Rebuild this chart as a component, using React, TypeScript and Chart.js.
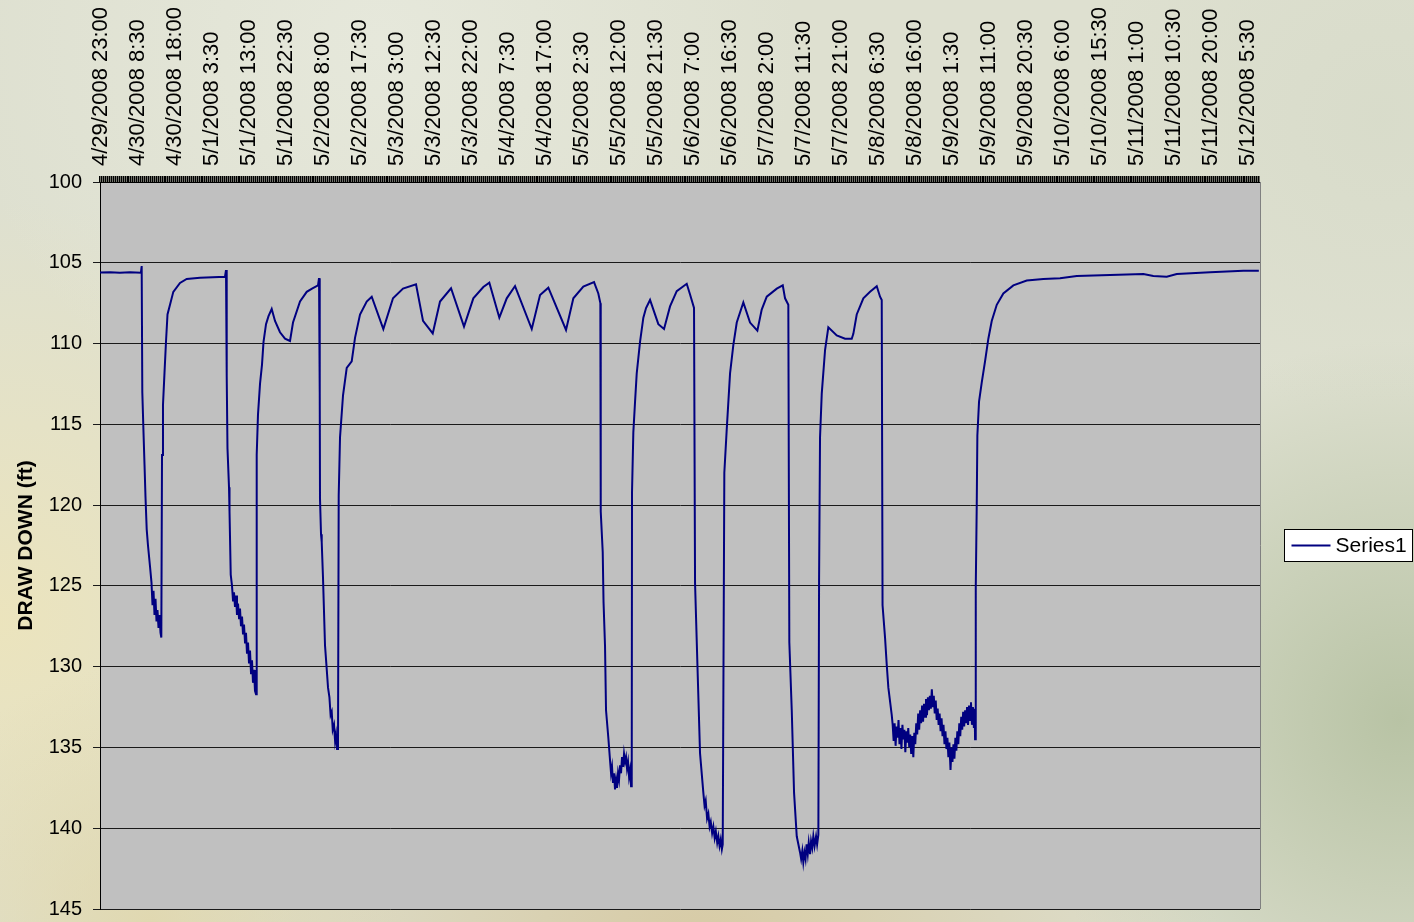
import React, { useEffect, useRef } from 'react';
import { Chart, registerables } from 'chart.js';

Chart.register(...registerables);

const FONT = '"Liberation Sans", Arial, Helvetica, sans-serif';

// Category tick labels shown on the top axis (one every 9.5 hours)
const tickLabels: string[] = [
  '4/29/2008 23:00', '4/30/2008 8:30', '4/30/2008 18:00', '5/1/2008 3:30',
  '5/1/2008 13:00', '5/1/2008 22:30', '5/2/2008 8:00', '5/2/2008 17:30',
  '5/3/2008 3:00', '5/3/2008 12:30', '5/3/2008 22:00', '5/4/2008 7:30',
  '5/4/2008 17:00', '5/5/2008 2:30', '5/5/2008 12:00', '5/5/2008 21:30',
  '5/6/2008 7:00', '5/6/2008 16:30', '5/7/2008 2:00', '5/7/2008 11:30',
  '5/7/2008 21:00', '5/8/2008 6:30', '5/8/2008 16:00', '5/9/2008 1:30',
  '5/9/2008 11:00', '5/9/2008 20:30', '5/10/2008 6:00', '5/10/2008 15:30',
  '5/11/2008 1:00', '5/11/2008 10:30', '5/11/2008 20:00', '5/12/2008 5:30',
];
const sampleStepHours = 0.5;
const labelIntervalHours = 9.5;
const axisEndHours = 297.8;

// [hours since 4/29/2008 23:00, draw down (ft)] — pumping test
const recoveryStart: [number, number][] = [
  [0, 105.6], [2.6, 105.58], [5.1, 105.62], [7.7, 105.58], [10.5, 105.62], [10.7, 105.2],
];
const pumping1: [number, number][] = [
  [10.86, 113.0], [11.17, 115.5], [11.43, 117.5], [11.68, 119.5], [11.99, 121.5], [12.32, 122.5],
  [12.84, 123.8], [13.22, 124.8], [13.48, 126.2], [13.74, 125.3], [13.99, 126.8], [14.25, 125.8],
  [14.51, 127.2], [14.76, 126.5], [15.02, 127.6], [15.28, 126.8], [15.53, 127.9], [15.74, 128.2],
];
const recovery1: [number, number][] = [
  [15.92, 116.9], [16.17, 113.8], [16.56, 111.8], [16.94, 109.9], [17.33, 108.2], [17.97, 107.6],
  [18.82, 106.8], [20.54, 106.25], [22.26, 106.0], [25.67, 105.92], [32.09, 105.86], [32.35, 105.45],
];
const pumping2: [number, number][] = [
  [32.53, 112.0], [32.73, 116.5], [33.12, 118.9], [33.25, 120.4], [33.56, 124.3], [33.89, 125.0],
  [34.15, 125.9], [34.4, 125.4], [34.66, 126.3], [34.92, 125.6], [35.17, 126.8], [35.43, 126.1],
  [35.69, 127.0], [35.94, 126.4], [36.2, 127.5], [36.46, 126.9], [36.72, 128.0], [36.97, 127.4],
  [37.23, 128.5], [37.48, 127.9], [37.74, 129.2], [38.0, 128.5], [38.26, 129.8], [38.51, 129.0],
  [38.77, 130.4], [39.02, 129.6], [39.28, 131.0], [39.54, 130.2], [39.79, 131.5], [40.05, 131.7],
];
const recovery2: [number, number][] = [
  [40.23, 116.9], [40.56, 114.4], [41.08, 112.5], [41.59, 111.3], [41.98, 109.9], [42.62, 108.8],
  [43.26, 108.3], [44.08, 107.86], [44.93, 108.6], [46.21, 109.3], [47.5, 109.7], [48.78, 109.84],
  [49.55, 108.7], [51.35, 107.4], [53.07, 106.8], [54.43, 106.6], [55.97, 106.4], [56.23, 105.95],
];
const pumping3: [number, number][] = [
  [56.41, 113.0], [56.48, 119.6], [56.74, 121.8], [56.92, 122.3], [57.25, 124.5], [57.77, 128.7],
  [58.1, 129.8], [58.54, 131.3], [58.9, 131.9], [59.2, 133.0], [59.49, 132.8], [59.75, 133.9],
  [60.08, 133.6], [60.35, 134.6], [60.59, 134.2], [60.85, 135.1], [61.1, 134.9],
];
const recovery3: [number, number][] = [
  [61.28, 119.4], [61.62, 115.8], [62.39, 113.2], [63.34, 111.5], [64.62, 111.1], [65.47, 109.65],
  [66.75, 108.2], [68.47, 107.4], [69.76, 107.1], [72.74, 109.1], [75.22, 107.2], [77.79, 106.6],
  [81.13, 106.33], [82.93, 108.6], [85.42, 109.37], [87.29, 107.4], [90.12, 106.58], [93.45, 108.95],
  [95.84, 107.2], [98.41, 106.5], [99.95, 106.23], [102.52, 108.4], [104.42, 107.2], [106.55, 106.44],
  [110.84, 109.1], [112.97, 107.0], [115.1, 106.54], [119.64, 109.16], [121.52, 107.2], [124.08, 106.48],
  [126.83, 106.2], [127.93, 106.9], [128.45, 107.5],
];
const pumping4: [number, number][] = [
  [128.55, 120.4], [129.06, 122.9], [129.27, 126.0], [129.65, 128.7], [129.91, 132.7], [130.5, 134.4],
  [130.94, 135.8], [131.2, 136.6], [131.45, 136.2], [131.7, 137.2], [131.96, 136.6], [132.22, 137.6],
  [132.48, 137.0], [132.73, 137.5], [132.99, 136.6], [133.25, 137.0], [133.5, 136.1], [133.76, 136.6],
  [134.02, 135.6], [134.27, 136.2], [134.53, 135.4], [134.79, 135.9], [135.05, 135.6], [135.3, 136.3],
  [135.56, 135.9], [135.82, 136.8], [136.07, 136.4], [136.33, 137.4], [136.51, 137.2],
];
const recovery4: [number, number][] = [
  [136.58, 119.2], [136.92, 115.5], [137.36, 113.6], [137.79, 111.85], [138.64, 109.9], [139.49, 108.4],
  [140.18, 107.8], [141.21, 107.3], [143.34, 108.8], [144.8, 109.1], [146.34, 107.7], [148.06, 106.76],
  [150.63, 106.3], [151.48, 106.96], [152.5, 107.8],
];
const pumping5: [number, number][] = [
  [152.76, 124.8], [153.35, 129.7], [154.04, 135.35], [154.89, 137.8], [155.2, 138.6], [155.5, 138.3],
  [155.85, 139.4], [156.18, 139.1], [156.5, 139.9], [156.8, 139.6], [157.15, 140.3], [157.46, 139.9],
  [157.8, 140.6], [158.1, 140.2], [158.45, 140.9], [158.74, 140.5], [159.05, 141.1], [159.35, 140.7],
  [159.65, 141.3], [159.87, 141.0],
];
const recovery5: [number, number][] = [
  [160.28, 118.0], [160.9, 115.3], [161.75, 111.85], [162.59, 110.1], [163.47, 108.7], [165.16, 107.45],
  [166.88, 108.7], [168.76, 109.2], [169.88, 107.9], [171.17, 107.1], [173.74, 106.6], [175.28, 106.4],
  [175.87, 107.2], [176.71, 107.6],
];
const pumping6: [number, number][] = [
  [176.97, 128.5], [177.59, 132.7], [178.18, 137.8], [178.87, 140.5], [179.72, 141.5], [180.0, 141.9],
  [180.3, 141.4], [180.56, 142.1], [180.85, 141.5], [181.13, 141.9], [181.4, 141.0], [181.7, 141.6],
  [181.95, 140.9], [182.29, 141.6], [182.55, 140.8], [182.85, 141.2], [183.13, 140.5], [183.45, 141.1],
  [183.83, 140.5], [184.1, 141.0], [184.42, 140.4],
];
const recovery6: [number, number][] = [
  [184.6, 124.8], [184.85, 115.8], [185.29, 113.1], [186.14, 110.4], [186.98, 109.0], [189.14, 109.5],
  [191.27, 109.7], [192.99, 109.7], [193.4, 109.4], [194.27, 108.2], [195.97, 107.2], [197.69, 106.8],
  [199.41, 106.45], [200.26, 107.1], [200.69, 107.3],
];
const pumping7: [number, number][] = [
  [200.9, 126.2], [201.54, 128.2], [201.98, 129.9], [202.39, 131.3], [203.26, 133.0], [203.5, 133.6],
  [203.75, 134.6], [204.0, 133.5], [204.25, 134.9], [204.5, 133.7], [204.75, 134.4], [205.0, 133.3],
  [205.25, 134.8], [205.5, 133.8], [205.75, 135.1], [206.0, 133.6], [206.25, 134.5], [206.5, 133.9],
  [206.75, 135.3], [207.0, 134.0], [207.25, 134.7], [207.5, 133.8], [207.75, 135.0], [208.0, 134.2],
  [208.25, 135.4], [208.5, 134.3], [208.8, 135.6], [209.05, 134.1], [209.3, 134.8], [209.55, 133.5],
  [209.8, 134.2], [210.05, 132.9], [210.3, 133.9], [210.55, 132.7], [210.8, 133.5], [211.05, 132.4],
  [211.3, 133.4], [211.55, 132.3], [211.8, 133.1], [212.05, 132.0], [212.3, 133.0], [212.55, 131.9],
  [212.8, 132.7], [213.05, 131.8], [213.3, 132.6], [213.55, 131.4], [213.8, 132.5], [214.05, 131.8],
  [214.3, 132.9], [214.55, 132.1], [214.8, 133.3], [215.05, 132.6], [215.3, 133.6], [215.55, 132.9],
  [215.8, 134.0], [216.05, 133.2], [216.3, 134.3], [216.55, 133.6], [216.8, 134.8], [217.05, 134.0],
  [217.3, 135.1], [217.55, 134.4], [217.8, 135.6], [218.05, 134.7], [218.35, 136.4], [218.6, 135.0],
  [218.85, 135.9], [219.1, 134.8], [219.35, 135.7], [219.6, 134.4], [219.85, 135.2], [220.1, 134.0],
  [220.35, 134.8], [220.6, 133.5], [220.85, 134.3], [221.1, 133.1], [221.35, 133.9], [221.6, 132.8],
  [221.85, 133.7], [222.1, 132.7], [222.35, 133.5], [222.6, 132.5], [222.85, 133.6], [223.1, 132.4],
  [223.35, 133.3], [223.6, 132.2], [223.85, 133.6], [224.1, 132.5], [224.35, 133.8], [224.55, 132.6],
  [224.65, 134.5],
];
const recoveryEnd: [number, number][] = [
  [224.83, 125.1], [225.08, 120.0], [225.24, 115.7], [225.67, 113.6], [226.37, 112.4], [227.21, 111.1],
  [228.06, 109.7], [228.93, 108.6], [230.22, 107.6], [231.91, 106.9], [234.48, 106.4], [237.92, 106.1],
  [242.18, 106.0], [246.47, 105.96], [250.76, 105.82], [259.31, 105.75], [267.86, 105.7], [270.42, 105.82],
  [273.86, 105.86], [276.43, 105.7], [284.98, 105.59], [293.53, 105.5], [297.5, 105.5],
];

const seriesName = 'Series1';
const yTitle = 'DRAW DOWN (ft)';

const decorPlugin = {
  id: 'decor',
  beforeDraw(chart: any) {
    const { ctx, width, height, chartArea } = chart;
    ctx.save();
    ctx.fillStyle = '#DEE0D0';
    ctx.fillRect(0, 0, width, height);
    const blob = (x: number, y: number, r: number, c: string) => {
      const g = ctx.createRadialGradient(x, y, 0, x, y, r);
      g.addColorStop(0, c);
      g.addColorStop(1, c.replace(/[\d.]+\)$/, '0)'));
      ctx.fillStyle = g;
      ctx.fillRect(0, 0, width, height);
    };
    blob(0, 620, 420, 'rgba(236,228,188,0.95)');
    blob(380, 40, 420, 'rgba(232,234,222,0.8)');
    blob(1400, 720, 380, 'rgba(180,192,160,0.9)');
    blob(1380, 120, 300, 'rgba(214,218,200,0.7)');
    blob(700, 960, 520, 'rgba(214,200,160,0.9)');
    blob(150, 922, 260, 'rgba(224,214,170,0.8)');
    ctx.fillStyle = '#C0C0C0';
    ctx.fillRect(chartArea.left, chartArea.top, chartArea.right - chartArea.left, chartArea.bottom - chartArea.top);
    ctx.restore();
  },
  afterDraw(chart: any) {
    const { ctx, chartArea } = chart;
    ctx.save();
    ctx.strokeStyle = '#808080';
    ctx.lineWidth = 1;
    ctx.beginPath();
    ctx.moveTo(chartArea.right + 0.5, chartArea.top);
    ctx.lineTo(chartArea.right + 0.5, chartArea.bottom);
    ctx.stroke();
    const ds = chart.data.datasets[0];
    const bx = 1284.5, by = 529.5, bw = 128, bh = 32;
    ctx.fillStyle = '#FFFFFF';
    ctx.fillRect(bx, by, bw, bh);
    ctx.strokeStyle = '#000000';
    ctx.strokeRect(bx, by, bw, bh);
    ctx.strokeStyle = ds.borderColor;
    ctx.lineWidth = 2;
    ctx.beginPath();
    ctx.moveTo(bx + 7, by + bh / 2);
    ctx.lineTo(bx + 46, by + bh / 2);
    ctx.stroke();
    ctx.fillStyle = '#000000';
    ctx.font = `21px ${FONT}`;
    ctx.textBaseline = 'middle';
    ctx.textAlign = 'left';
    ctx.fillText(ds.label, bx + 51, by + bh / 2 + 1);
    ctx.restore();
  },
};

export default function App() {
  const ref = useRef<HTMLCanvasElement>(null);
  useEffect(() => {
    document.body.style.margin = '0';
    const canvas = ref.current;
    if (!canvas) return;
    const readings = [
      ...recoveryStart, ...pumping1, ...recovery1, ...pumping2, ...recovery2, ...pumping3, ...recovery3,
      ...pumping4, ...recovery4, ...pumping5, ...recovery5, ...pumping6, ...recovery6, ...pumping7, ...recoveryEnd,
    ];
    const points = readings.map(([h, v]) => ({ x: h, y: v }));
    const perLabel = Math.round(labelIntervalHours / sampleStepHours);
    const chart = new Chart(canvas, {
      type: 'line',
      data: {
        datasets: [
          {
            label: seriesName,
            data: points,
            borderColor: '#000080',
            borderWidth: 2,
            pointRadius: 0,
            fill: false,
            tension: 0,
          },
        ],
      },
      options: {
        responsive: false,
        animation: false,
        events: [],
        layout: { padding: { left: 0, top: 0, right: 154, bottom: 13 } },
        plugins: { legend: { display: false }, tooltip: { enabled: false }, title: { display: false } },
        scales: {
          x: {
            type: 'linear',
            position: 'top',
            min: 0,
            max: axisEndHours,
            ticks: {
              stepSize: sampleStepHours,
              maxTicksLimit: 1000,
              autoSkip: false,
              includeBounds: false,
              minRotation: 90,
              maxRotation: 90,
              padding: 10,
              labelOffset: 27,
              color: '#000000',
              font: { family: FONT, size: 22 },
              callback: (value: any) => {
                const idx = Math.round(Number(value) / sampleStepHours);
                if (idx % perLabel !== 0) return '';
                return tickLabels[idx / perLabel] ?? '';
              },
            },
            grid: { drawOnChartArea: false, drawTicks: true, tickLength: 6, color: '#000000', lineWidth: 1.5 },
            border: { display: true, color: '#000000', width: 1 },
            afterFit: (s: any) => { s.height = 182; s.paddingLeft = 0; s.paddingRight = 0; },
          },
          y: {
            type: 'linear',
            reverse: true,
            min: 100,
            max: 145,
            ticks: { stepSize: 5, padding: 11, color: '#000000', font: { family: FONT, size: 20 } },
            grid: { color: '#1a1a1a', lineWidth: 1, tickLength: 7 },
            border: { display: true, color: '#000000', width: 1 },
            title: {
              display: true,
              text: yTitle,
              color: '#000000',
              font: { family: FONT, size: 21, weight: 'bold' },
              padding: { top: 14, bottom: 0 },
            },
            afterFit: (s: any) => { s.width = 100; s.paddingTop = 0; s.paddingBottom = 0; },
          },
        },
      },
      plugins: [decorPlugin],
    } as any);
    return () => chart.destroy();
  }, []);
  return <canvas ref={ref} width={1414} height={922} style={{ display: 'block' }} />;
}
